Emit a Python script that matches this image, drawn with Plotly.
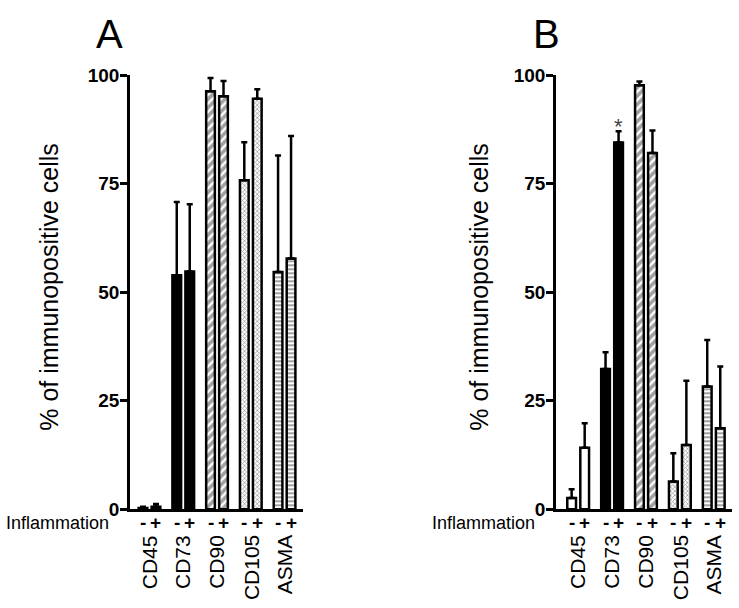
import plotly.graph_objects as go

# ---------------- data ----------------
categories = ["CD45", "CD73", "CD90", "CD105", "ASMA"]
tick_minus = "-"
tick_plus = "+"

a_minus = [0.3, 53.9, 96.3, 75.8, 54.7]
a_minus_err = [0.3, 16.9, 3.1, 8.8, 26.8]
a_plus = [0.6, 54.8, 95.2, 94.6, 57.8]
a_plus_err = [0.6, 15.5, 3.5, 2.2, 28.2]

b_minus = [2.6, 32.3, 97.7, 6.4, 28.3]
b_minus_err = [2.0, 3.9, 0.9, 6.5, 10.7]
b_plus = [14.2, 84.5, 82.1, 14.8, 18.7]
b_plus_err = [5.6, 2.6, 5.2, 14.8, 14.2]

y_ticks = [0, 25, 50, 75, 100]
y_title = "% of immunopositive cells"
x_row_label = "Inflammation"
panel_labels = ["A", "B"]
significance = "*"

# ---------------- styles ----------------
W, H = 739, 608
FONT = "Liberation Sans, Arial, sans-serif"
G = 2.6          # group spacing (in bar units)
BAR_W = 0.67

fill_color = ["white", "black", "white", "white", "white"]
pat_shape = ["", "", "/", "x", "-"]
pat_fg = ["black", "black", "black", "#444444", "black"]
pat_bg = ["white", "black", "white", "white", "white"]
pat_size = [8, 8, 6, 3, 4]
pat_solid = [0.3, 0.3, 0.6, 0.45, 0.5]

# the captured page is shown slightly squeezed vertically; compensate
V_SCALE = 0.9655
V_OFF = 10.2


def px_x(p):
    return p / W


def px_y(p):
    return 1 - ((p - V_OFF) / V_SCALE) / H


pos_minus = [i * G for i in range(len(categories))]
pos_plus = [i * G + 1 for i in range(len(categories))]
group_center = [i * G + 0.5 for i in range(len(categories))]


def bar_trace(x, y, err, xa, ya):
    return go.Bar(
        x=x, y=y, width=BAR_W, xaxis=xa, yaxis=ya, showlegend=False,
        marker=dict(
            color=fill_color,
            line=dict(color="black", width=2.5),
            pattern=dict(shape=pat_shape, fgcolor=pat_fg, bgcolor=pat_bg,
                         size=pat_size, solidity=pat_solid),
        ),
        error_y=dict(type="data", array=err, arrayminus=[0] * len(err),
                     symmetric=False, color="black", thickness=2.5, width=3),
    )


fig = go.Figure()
fig.add_trace(bar_trace(pos_minus, a_minus, a_minus_err, "x", "y"))
fig.add_trace(bar_trace(pos_plus, a_plus, a_plus_err, "x", "y"))
fig.add_trace(bar_trace(pos_minus, b_minus, b_minus_err, "x2", "y2"))
fig.add_trace(bar_trace(pos_plus, b_plus, b_plus_err, "x2", "y2"))

xcommon = dict(showline=True, showticklabels=False,
               linewidth=2.5, linecolor="black", ticks="", showgrid=False,
               zeroline=False, fixedrange=True)
ycommon = dict(range=[0, 100], autorange=False, tickvals=y_ticks, showline=True,
               linewidth=2.5, linecolor="black", ticks="outside", ticklen=7,
               tickwidth=2.5, tickcolor="black", showgrid=False, zeroline=False,
               fixedrange=True, ticklabelstandoff=-3,
               tickfont=dict(family=FONT, size=19, color="black", weight="bold"))

ydom = [px_y(509.5), px_y(75.5)]

fig.update_layout(
    width=W, height=H, autosize=False, margin=dict(l=0, r=0, t=0, b=0, pad=0),
    paper_bgcolor="white", plot_bgcolor="white", barmode="overlay",
    xaxis=dict(domain=[px_x(130), px_x(303)], range=[-1.0, 4 * G + 1.92],
               anchor="y", **xcommon),
    yaxis=dict(domain=ydom, anchor="x", **ycommon),
    xaxis2=dict(domain=[px_x(556), px_x(732)], range=[-1.2, 4 * G + 1.9],
                anchor="y2", **xcommon),
    yaxis2=dict(domain=ydom, anchor="x2", **ycommon),
)

ann = []
for xr, title_x, lab_x, infl_x, pl in [("x", 49, 110, 111, panel_labels[0]),
                                        ("x2", 479, 546, 537, panel_labels[1])]:
    for m, p in zip(pos_minus, pos_plus):
        for xv, t in ((m, tick_minus), (p, tick_plus)):
            ann.append(dict(text=t, x=xv, xref=xr, y=px_y(523), yref="paper",
                            xanchor="center", yanchor="middle", showarrow=False,
                            font=dict(family=FONT, size=19, color="black",
                                      weight="bold")))
    for c, gx in zip(categories, group_center):
        ann.append(dict(text=c, x=gx, xref=xr, y=px_y(533), yref="paper",
                        xanchor="center", yanchor="top", textangle=-90,
                        showarrow=False,
                        font=dict(family=FONT, size=21, color="black")))
    ann.append(dict(text=y_title, x=px_x(title_x), y=px_y(287),
                    xref="paper", yref="paper", textangle=-90, showarrow=False,
                    xanchor="center", yanchor="middle",
                    font=dict(family=FONT, size=25, color="black")))
    ann.append(dict(text=pl, x=px_x(lab_x), y=px_y(34), xref="paper",
                    yref="paper", showarrow=False, xanchor="center",
                    yanchor="middle", font=dict(family=FONT, size=40, color="black")))
    ann.append(dict(text=x_row_label, x=px_x(infl_x), y=px_y(523), xref="paper",
                    yref="paper", showarrow=False, xanchor="right",
                    yanchor="middle", font=dict(family=FONT, size=18, color="black")))

ann.append(dict(text=significance, x=pos_plus[1], xref="x2",
                y=b_plus[1] + b_plus_err[1], yref="y2", yanchor="bottom",
                yshift=-10, showarrow=False,
                font=dict(family=FONT, size=22, color="#444444")))

fig.update_layout(annotations=ann)
fig.write_html(
    "out.html",
    config={"displayModeBar": False},
    post_script=(
        "var s=document.createElement('style');"
        "s.textContent='html,body{margin:0!important;padding:0!important;"
        "overflow:hidden!important;width:739px;height:608px;}';"
        "document.head.appendChild(s);"
        "var gd=document.getElementById('{plot_id}');"
        "gd.style.position='absolute';gd.style.top='0px';gd.style.left='0px';"
    ),
)
